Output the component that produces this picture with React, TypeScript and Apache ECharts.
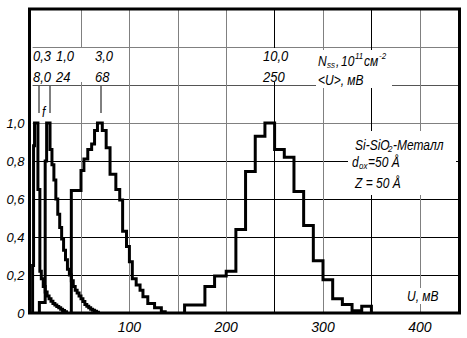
import React, { useEffect, useRef } from 'react';
import * as echarts from 'echarts';

// ---- data (U in mV, normalised distribution f) ----
const seriesNames = ['0,3 / 8,0', '1,0 / 24', '3,0 / 68', '10,0 / 250'];

const edgesA = [0, 1, 2, 5.5, 7.5, 9, 11, 13, 15, 17, 19, 21, 23, 25, 27, 29, 31, 33, 35];
const valuesA = [0.25, 0.88, 1.0, 0.65, 0.22, 0.18, 0.14, 0.11, 0.09, 0.075, 0.062, 0.05, 0.042, 0.034, 0.027, 0.02, 0.013, 0.006];

const edgesB = [7, 13, 14.5, 18, 20, 22, 24, 26, 28, 30, 32, 34, 36, 38, 40, 42, 44, 46, 48, 50, 52, 54, 56, 58, 60, 62, 64, 66, 68];
const valuesB = [0.055, 0.8, 1.0, 0.86, 0.78, 0.7, 0.6, 0.52, 0.45, 0.39, 0.33, 0.28, 0.23, 0.2, 0.17, 0.14, 0.12, 0.105, 0.09, 0.075, 0.06, 0.045, 0.035, 0.027, 0.02, 0.015, 0.009, 0.004];

const edgesC = [40, 50, 53, 57, 61, 64, 67, 72, 76, 80, 86, 90, 93, 97, 100, 103, 107, 111, 114, 119, 126, 133, 137];
const valuesC = [0.645, 0.75, 0.81, 0.86, 0.89, 0.96, 1.0, 0.96, 0.87, 0.73, 0.65, 0.595, 0.43, 0.35, 0.27, 0.18, 0.147, 0.12, 0.086, 0.05, 0.028, 0.007];

const edgesD = [157, 178, 188, 200, 210, 220, 230, 240, 250, 260, 270, 280, 290, 300, 310, 320, 330, 340, 350];
const valuesD = [0.042, 0.14, 0.195, 0.22, 0.44, 0.745, 0.93, 1.0, 0.86, 0.82, 0.64, 0.46, 0.275, 0.175, 0.075, 0.045, 0.012, 0.035];

const xTickLabels = [100, 200, 300, 400];
const yTickLabelMax = 1.0;

function buildSteps(edges: number[], values: number[]) {
  const pts: number[][] = [[edges[0], 0]];
  values.forEach((v, i) => pts.push([edges[i], v]));
  pts.push([edges[edges.length - 1], 0]);
  return pts;
}

const FONT = '"Liberation Sans", Arial, sans-serif';
const F = (size: number) => `italic ${size}px ${FONT}`;
const txt = (text: string, x: number, y: number, size = 13, sy = 1.15) => ({
  type: 'text', x, y, scaleY: sy, z: 10,
  style: { text, font: F(size), fill: '#000', textAlign: 'left', textVerticalAlign: 'middle' },
});
const box = (x: number, y: number, w: number, h: number) => ({
  type: 'rect', z: 1, shape: { x, y, width: w, height: h }, style: { fill: '#fff' },
});
const ln = (x1: number, y1: number, x2: number, y2: number) => ({
  type: 'line', z: 10, shape: { x1, y1, x2, y2 }, style: { stroke: '#000', lineWidth: 1 },
});

export default function App() {
  const ref = useRef<HTMLDivElement>(null);
  useEffect(() => {
    if (!ref.current) return;
    const chart = echarts.init(ref.current, undefined, { renderer: 'svg' });
    const G = '#808080';
    const K = '#000';
    const curves = [
      [edgesA, valuesA], [edgesB, valuesB], [edgesC, valuesC], [edgesD, valuesD],
    ];
    chart.setOption({
      animation: false,
      backgroundColor: '#fff',
      grid: { left: 32.6, right: 7.5, top: 9, bottom: 25 },
      xAxis: {
        type: 'value', min: 0, max: 441, interval: 50,
        axisLine: { show: false }, axisTick: { show: false },
        splitLine: { show: true, lineStyle: { width: 1, color: ['transparent', G, G, G, G, K, G, K, G, 'transparent'] } },
        axisLabel: {
          margin: 7, fontSize: 14, fontStyle: 'italic', fontFamily: FONT, color: '#000',
          formatter: (v: number) => (xTickLabels.includes(v) ? String(v) : ''),
        },
      },
      yAxis: {
        type: 'value', min: 0, max: 1.6, interval: 0.2,
        axisLine: { show: false }, axisTick: { show: false },
        splitLine: { show: true, lineStyle: { width: 1, color: ['transparent', K, K, K, K, G, '#555', G, 'transparent'] } },
        axisLabel: {
          margin: 8, fontSize: 13, fontStyle: 'italic', fontFamily: FONT, color: '#000',
          formatter: (v: number) => (v > yTickLabelMax + 0.01 ? '' : v === 0 ? '0' : v.toFixed(1).replace('.', ',')),
        },
      },
      series: curves.map(([e, v], i) => ({
        name: seriesNames[i], type: 'line', step: 'end', symbol: 'none', silent: true,
        data: buildSteps(e as number[], v as number[]),
        lineStyle: { color: '#000', width: 3, join: 'miter', cap: 'butt' },
        z: 3,
      })),
      graphic: [
        box(33, 48, 82, 34),
        box(260, 48, 40, 34),
        box(316, 50, 76, 38),
        box(348, 131, 108, 64),
        box(404, 288, 38, 16),
        txt('0,3', 33, 56), txt('1,0', 56, 56), txt('3,0', 95, 56),
        txt('8,0', 33, 77), txt('24', 56, 77), txt('68', 95, 77),
        ln(39, 86, 39, 113), ln(50, 86, 50, 113), ln(101, 86, 101, 113),
        txt('f', 42, 112, 12),
        txt('10,0', 263, 56), txt('250', 263, 77),
        txt('N', 318, 61, 12), txt('ss', 327, 65, 8, 1.1), txt(',', 336, 61, 12),
        txt('10', 341, 61, 12), txt('11', 355, 56, 8, 1.1), txt('см', 364, 61, 12), txt('-2', 379, 56, 8, 1.1),
        txt('<U>, мВ', 318, 80, 12),
        txt('Si-SiO', 355, 145, 12), txt('2', 388, 149, 8, 1.1), txt('-Металл', 393, 145, 12),
        txt('d', 352, 162, 12), txt('ox', 359, 166, 8, 1.1), txt('=50 Å', 368, 162, 12),
        txt('Z = 50 Å', 355, 183, 12),
        txt('U, мВ', 407, 296, 12),
        {
          type: 'rect', z: 20, shape: { x: 29.5, y: 9, width: 430, height: 304 },
          style: { fill: 'none', stroke: '#000', lineWidth: 3 },
        },
      ],
    });
    return () => chart.dispose();
  }, []);
  return (
    <div
      ref={ref}
      style={{ position: 'fixed', left: 0, top: 0, width: 467, height: 338, background: '#fff' }}
    />
  );
}
